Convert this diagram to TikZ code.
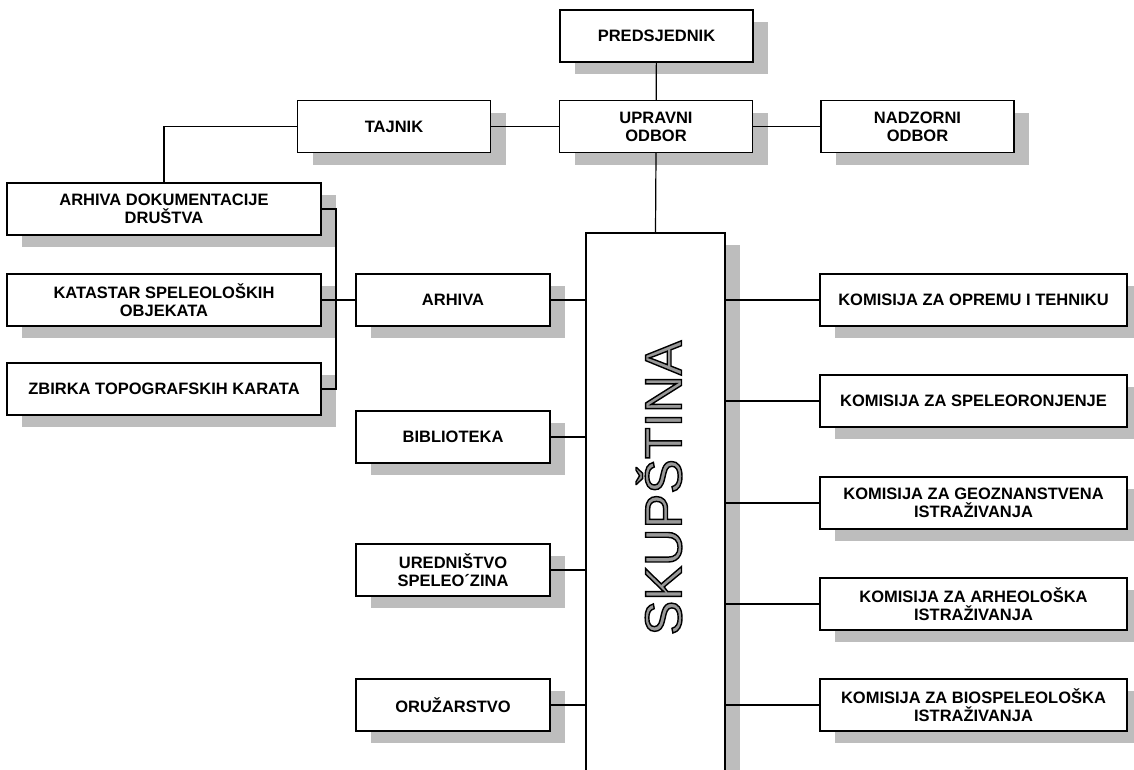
\documentclass[tikz,border=0pt]{standalone}
\usepackage{fontspec}
\setmainfont{Liberation Sans}
\usepackage{xcolor}
\usepackage{tikz}
\usetikzlibrary{shadows}

\tikzset{
  orgbox/.style={draw, line width=1.3pt, fill=white, align=center,
    inner sep=0pt, minimum height=52pt,
    font=\fontsize{16.5}{18}\selectfont\bfseries,
    drop shadow={shadow xshift=15pt, shadow yshift=-12pt, fill=black!26, opacity=1}},
  topbox/.style={orgbox, minimum width=193pt},
  docbox/.style={orgbox, minimum width=314pt},
  unitbox/.style={orgbox, minimum width=194pt},
  kombox/.style={orgbox, minimum width=307pt},
  link/.style={line width=1.2pt}
}

\begin{document}
\begin{tikzpicture}[x=1pt, y=-1pt]
        \useasboundingbox (0,0) rectangle (1134,769);

        \node[topbox] (pred) at (656.5, 36) {PREDSJEDNIK};
        \node[topbox] (upr)  at (656,  126.5) {UPRAVNI\\ODBOR};
        \node[topbox] (taj)  at (394,  126.5) {TAJNIK};
        \node[topbox] (nadz) at (917.5,126.5) {NADZORNI\\ODBOR};

        \node[orgbox, minimum width=139pt, minimum height=557pt] (skup) at (655.5, 511.5) {};
        \node[rotate=90, inner sep=0pt, font=\fontsize{52}{52}\selectfont] (skuptxt) at (659, 488)
          {\color{black!40}\special{pdf:literal direct 0 G 1.4 w 2 Tr}SKUPŠTINA\special{pdf:literal direct 0 Tr}};

        \node[docbox] (arhdok) at (164, 209) {ARHIVA DOKUMENTACIJE\\DRUŠTVA};
        \node[docbox] (kat)    at (164, 300) {KATASTAR SPELEOLOŠKIH\\OBJEKATA};
        \node[docbox] (zbirka) at (164, 389) {ZBIRKA TOPOGRAFSKIH KARATA};
        \coordinate (brk) at (336, 300);

        \node[unitbox] (arhiva) at (453, 300) {ARHIVA};
        \node[unitbox] (biblio) at (453, 437) {BIBLIOTEKA};
        \node[unitbox] (ured)   at (453, 570) {UREDNIŠTVO\\SPELEO´ZINA};
        \node[unitbox] (oruz)   at (453, 705) {ORUŽARSTVO};

        \node[kombox] (kom1) at (973.5, 300) {KOMISIJA ZA OPREMU I TEHNIKU};
        \node[kombox] (kom2) at (973.5, 401) {KOMISIJA ZA SPELEORONJENJE};
        \node[kombox] (kom3) at (973.5, 503) {KOMISIJA ZA GEOZNANSTVENA\\ISTRAŽIVANJA};
        \node[kombox] (kom4) at (973.5, 604) {KOMISIJA ZA ARHEOLOŠKA\\ISTRAŽIVANJA};
        \node[kombox] (kom5) at (973.5, 705) {KOMISIJA ZA BIOSPELEOLOŠKA\\ISTRAŽIVANJA};

        \draw[link] (pred) -- (upr);
        \draw[link] (taj) -- (upr);
        \draw[link] (upr) -- (nadz);
        \draw[link] (upr.south) -- (skup.north);
        \draw[link] (taj.west) -| (arhdok.north);

        \draw[link] (arhdok.east) -- (arhdok.east -| brk) -- (zbirka.east -| brk) -- (zbirka.east);
        \draw[link] (kat.east) -- (arhiva.west);

        \foreach \u in {arhiva, biblio, ured, oruz}
          \draw[link] (\u.east) -- (\u.east -| skup.west);
        \foreach \k in {kom1, kom2, kom3, kom4, kom5}
          \draw[link] (\k.west) -- (\k.west -| skup.east);
      \end{tikzpicture}
\end{document}
